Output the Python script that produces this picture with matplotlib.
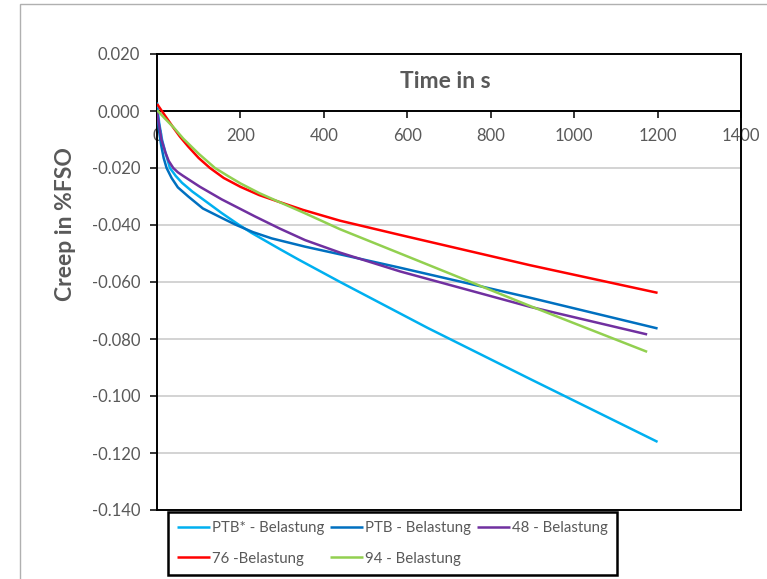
import numpy as np
import matplotlib
matplotlib.use('Agg')
import matplotlib.pyplot as plt
from matplotlib.patches import Rectangle
from matplotlib.ticker import FuncFormatter

plt.rcParams['font.family'] = ['Lato', 'DejaVu Sans']

# creep curves (time in s, creep in %FSO)
ptb_star_t = [0, 5, 12, 20, 31, 45, 60, 85, 115, 155, 195, 227, 295, 339, 439,
              650, 894, 1200]
ptb_star_c = [0.003, -0.004, -0.010, -0.0145, -0.020, -0.0228, -0.0252, -0.0283,
              -0.0315, -0.0358, -0.0398, -0.0428, -0.0485, -0.0521, -0.0600,
              -0.0762, -0.0940, -0.1161]

ptb_t = [0, 4, 10, 16, 23, 35, 50, 75, 110, 155, 187, 230, 275, 355, 439, 583,
         894, 1200]
ptb_c = [0.001, -0.006, -0.012, -0.0165, -0.020, -0.0235, -0.0268, -0.030,
         -0.0342, -0.0375, -0.0398, -0.0425, -0.0447, -0.0476, -0.0503, -0.0550,
         -0.0655, -0.0763]

p48_t = [0, 4, 11, 20, 28, 39, 50, 63, 103, 155, 235, 295, 355, 439, 583, 894, 1175]
p48_c = [0.0, -0.004, -0.0102, -0.0145, -0.0175, -0.020, -0.0215, -0.0228, -0.0266,
         -0.031, -0.037, -0.0413, -0.0453, -0.0497, -0.0563, -0.0687, -0.0784]

p76_t = [0, 20, 40, 55, 75, 100, 127, 160, 200, 245, 291, 350, 439, 583, 894, 1200]
p76_c = [0.0025, -0.0018, -0.006, -0.009, -0.0125, -0.0165, -0.020, -0.0235,
         -0.0266, -0.0295, -0.0318, -0.0347, -0.0385, -0.0435, -0.0541, -0.0638]

p94_t = [0, 20, 40, 63, 100, 139, 170, 200, 245, 291, 355, 439, 583, 894, 1175]
p94_c = [0.0003, -0.0028, -0.0058, -0.0097, -0.0150, -0.0200, -0.0228, -0.0254,
         -0.0288, -0.0318, -0.0359, -0.0415, -0.0500, -0.0684, -0.0845]

labels = ['PTB* - Belastung', 'PTB - Belastung', '48 - Belastung',
          '76 -Belastung', '94 - Belastung']
colors = ['#00B0F0', '#0070C0', '#7030A0', '#FF0000', '#92D050']

x_ticks = np.arange(0, 1401, 200)
y_ticks = np.arange(-0.14, 0.0201, 0.02)

GREY = '#595959'
W, H = 767, 579

fig = plt.figure(figsize=(W / 100, H / 100), dpi=100)
ax = fig.add_axes([157 / W, 1 - 510 / H, 584 / W, 456 / H])

# outer chart border (cut off on the right and bottom like in the original)
fig.add_artist(Rectangle((20 / W, -0.1), 1.2, 1.1 - 4 / H, transform=fig.transFigure,
                         fill=False, edgecolor='#B0B0B0', linewidth=1.0))

series = [(ptb_star_t, ptb_star_c), (ptb_t, ptb_c), (p48_t, p48_c),
          (p76_t, p76_c), (p94_t, p94_c)]
handles = []
for (t, c), lab, col in zip(series, labels, colors):
    h, = ax.plot(t, c, color=col, lw=1.8, label=lab, solid_capstyle='butt',
                 solid_joinstyle='round', zorder=3)
    handles.append(h)

ax.set_xlim(0, 1400)
ax.set_ylim(-0.14, 0.02)
ax.set_xticks(x_ticks)
ax.set_yticks(y_ticks)
ax.yaxis.set_major_formatter(FuncFormatter(lambda v, p: '%.3f' % (0.0 if abs(v) < 1e-9 else v)))

for v in y_ticks[1:-2]:
    ax.axhline(v, color='#C8C8C8', lw=1.1, zorder=1)

ax.spines['bottom'].set_position(('data', 0))
for s in ['left', 'bottom', 'top', 'right']:
    ax.spines[s].set_color('black')
    ax.spines[s].set_linewidth(1.4)
ax.plot([0, 1], [0, 0], transform=ax.transAxes, color='black', lw=1.4,
        clip_on=False, zorder=4)

ax.tick_params(axis='both', direction='out', length=5, width=1.1, color='black',
               labelsize=12, labelcolor=GREY)
ax.tick_params(axis='x', pad=7)
ax.tick_params(axis='y', pad=7)

fig.text(66 / W, 1 - 224 / H, 'Creep in %FSO', rotation=90, ha='center', va='center',
         fontsize=16.5, fontweight='bold', color=GREY)
fig.text(445 / W, 1 - 82 / H, 'Time in s', ha='center', va='center',
         fontsize=16.5, fontweight='bold', color=GREY)

# legend fills row by row in the original: reorder for matplotlib's column filling
order = [0, 3, 1, 4, 2]
leg = fig.legend(handles=[handles[i] for i in order], labels=[labels[i] for i in order],
                 ncol=3, loc='upper left',
                 bbox_to_anchor=(168 / W, 1 - 512 / H), bbox_transform=fig.transFigure,
                 borderaxespad=0, fontsize=10.8, frameon=True, fancybox=False,
                 framealpha=1, handlelength=2.2, handletextpad=0.12,
                 columnspacing=0.4, borderpad=0.6, labelspacing=1.1, labelcolor=GREY)
leg.get_frame().set_edgecolor('black')
leg.get_frame().set_linewidth(1.8)

fig.savefig('out.png', dpi=100)
